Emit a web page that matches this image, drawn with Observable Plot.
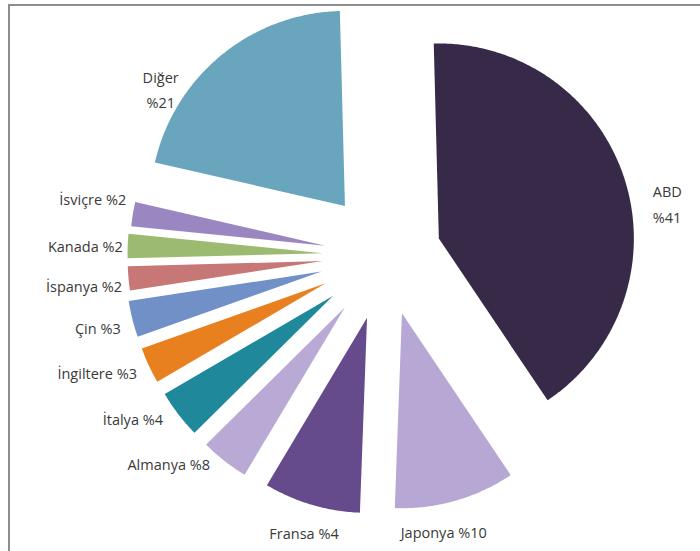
<!DOCTYPE html>
<html><head><meta charset="utf-8">
<script src="https://cdn.jsdelivr.net/npm/d3@7"></script>
<script src="https://cdn.jsdelivr.net/npm/@observablehq/plot@0.6"></script>
<style>
html,body{margin:0;padding:0;background:#fff;}
#wrap{position:relative;width:700px;height:551px;overflow:hidden;}
#wrap svg{position:absolute;left:0;top:0;}
#frame{position:absolute;left:8px;top:4px;right:-4px;bottom:-4px;border-top:2px solid #8d8d8d;border-left:2px solid #8d8d8d;pointer-events:none;}
</style></head><body><div id="wrap"><div id="frame"></div></div>
<script>
// ---- data (clockwise from 12 o'clock) ----
const countries  = ["ABD","Japonya","Fransa","Almanya","İtalya","İngiltere","Çin","İspanya","Kanada","İsviçre","Diğer"];
const printedPct = [41, 10, 4, 8, 4, 3, 3, 2, 2, 2, 21];   // values printed in labels
const drawnShare = [41, 10, 8, 4, 4, 3, 3, 2, 2, 2, 21];   // slice sizes as drawn
const colors     = ["#372a48","#b7a7d4","#654b8b","#b9aad5","#1f899b","#e9801f","#7090c7","#c77775","#9cba70","#9a86c0","#69a6be"];

// ---- layout / style ----
const explode     = [56, 60, 65, 66, 66, 66, 66, 63, 63, 61, 64];
const labelTurn   = [8, 5, 0, 3, 2, 0, -1, -1.5, 0.5, 4.5, -18];
const labelGap    = [22, 26, 27, 10, 14, 13, 13, 7, 5, 10, 24];
const labelAnchor = ["start","middle","middle","end","end","end","end","end","end","end","middle"];
const labelLines  = [2,1,1,1,1,1,1,1,1,1,2];
const R = 195, startDeg = -1.5;

const rad = Math.PI / 180;
const pie = d3.pie().sort(null).value(d => d)
  .startAngle(startDeg * rad).endAngle((startDeg + 360) * rad);
const arcs = pie(drawnShare);

const pts = [];
const labels = [];
arcs.forEach((a, i) => {
  const mid = (a.startAngle + a.endAngle) / 2;
  const ox = explode[i] * Math.sin(mid), oy = explode[i] * Math.cos(mid);
  pts.push({k: i, x: ox, y: oy});
  const n = Math.max(2, Math.ceil((a.endAngle - a.startAngle) / 0.01));
  for (let j = 0; j <= n; j++) {
    const t = a.startAngle + (a.endAngle - a.startAngle) * j / n;
    pts.push({k: i, x: ox + R * Math.sin(t), y: oy + R * Math.cos(t)});
  }
  const lt = mid + labelTurn[i] * rad, lr = R + labelGap[i];
  labels.push({
    x: ox + lr * Math.sin(lt), y: oy + lr * Math.cos(lt),
    text: labelLines[i] === 2 ? `${countries[i]}\n%${printedPct[i]}` : `${countries[i]} %${printedPct[i]}`,
    anchor: labelAnchor[i]
  });
});

const textOpts = {x: "x", y: "y", text: "text", fontSize: 14.5, fill: "#3a3a3a", lineHeight: 1.75,
  fontFamily: "'Open Sans', 'Noto Sans', sans-serif"};

const chart = Plot.plot({
  width: 700, height: 551, margin: 0,
  x: {domain: [-385, 315], axis: null},
  y: {domain: [-296, 255], axis: null},
  color: {type: "identity"},
  marks: [
    Plot.line(pts, {x: "x", y: "y", z: "k", fill: d => colors[d.k], stroke: "none", curve: "linear-closed"}),
    Plot.text(labels.filter(d => d.anchor === "start"), {...textOpts, textAnchor: "start"}),
    Plot.text(labels.filter(d => d.anchor === "middle"), {...textOpts, textAnchor: "middle"}),
    Plot.text(labels.filter(d => d.anchor === "end"), {...textOpts, textAnchor: "end"})
  ]
});
document.getElementById("wrap").prepend(chart);
</script>
</body></html>
